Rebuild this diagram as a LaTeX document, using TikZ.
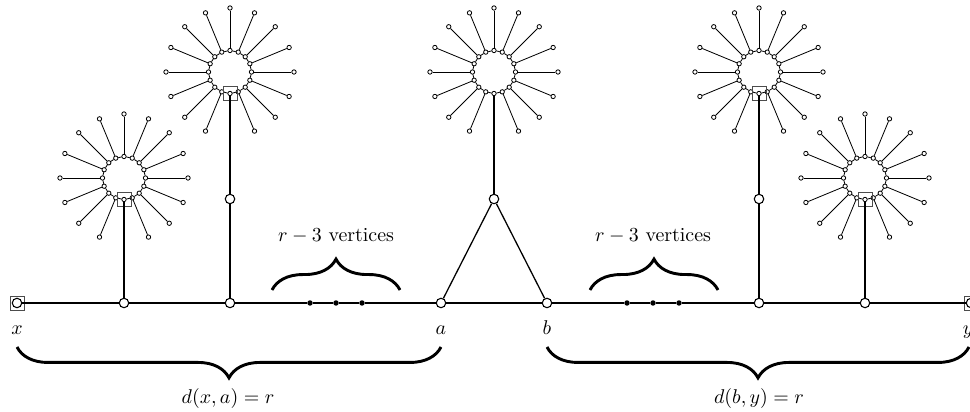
\documentclass[tikz,border=0pt,11pt]{standalone}
\usetikzlibrary{positioning,decorations.pathreplacing}

\begin{document}
\begin{tikzpicture}[
    x=0.55pt, y=0.55pt,
    vtx/.style={circle, draw, fill=white, inner sep=0pt, minimum size=5.2pt, line width=0.6pt},
    cv/.style={circle, draw, fill=white, inner sep=0pt, minimum size=2.4pt, line width=0.45pt},
    dotv/.style={circle, fill, inner sep=0pt, minimum size=3pt},
    sq/.style={rectangle, draw=black!70, inner sep=0pt, minimum size=7.7pt, line width=0.4pt},
    link/.style={line width=0.7pt},
    petal/.style={line width=0.45pt},
    brc/.style={decorate, decoration={brace, amplitude=17pt}, line width=1.6pt}
]
    \useasboundingbox (0,0) rectangle (970,412);
    \clip (0,0) rectangle (970,412);

    % main path
    \node[vtx] (x) at (17,109) {};
    \node[sq] (xsq) at (x) {};
    \node[vtx] (v1) at (124,109) {};
    \node[vtx] (v2) at (230,109) {};
    \node[dotv] (d1) at (310,109) {};
    \node[dotv] (d2) at (336,109) {};
    \node[dotv] (d3) at (362,109) {};
    \node[vtx] (a) at (441,109) {};
    \node[vtx] (b) at (547,109) {};
    \node[dotv] (e1) at (627,109) {};
    \node[dotv] (e2) at (653,109) {};
    \node[dotv] (e3) at (679,109) {};
    \node[vtx] (v4) at (759,109) {};
    \node[vtx] (v5) at (865,109) {};
    \node[vtx] (y) at (971,109) {};
    \node[sq] (ysq) at (y) {};

    \node[vtx] (s2) at (230,213) {};
    \node[vtx] (t) at (494,213) {};
    \node[vtx] (s4) at (759,213) {};

    % flowers
    \foreach \f/\cx/\cy in {1/124/234, 2/230/340, 3/494/340, 4/759/340, 5/865/234}{
        \begin{scope}[shift={(\cx,\cy)}]
            \foreach \k in {0,...,15}
                \node[cv] (f\f-\k) at (270+22.5*\k:21.5) {};
            \foreach \k [evaluate=\k as \n using {int(mod(\k+1,16))}] in {0,...,15}
                \draw[petal] (f\f-\k) -- (f\f-\n);
            \foreach \k in {1,...,15}{
                \node[cv] (f\f-l\k) at (270+22.5*\k:64) {};
                \draw[petal] (f\f-\k) -- (f\f-l\k);
            }
        \end{scope}
    }
    \foreach \f in {1,2,4,5}
        \node[sq] (f\f-sq) at (f\f-0) {};

    \draw[link] (x) -- (v1) -- (v2) -- (d1) -- (d2) -- (d3) -- (a) -- (b)
        -- (e1) -- (e2) -- (e3) -- (v4) -- (v5) -- (y);
    \draw[link] (v1) -- (f1-0);
    \draw[link] (v2) -- (s2) -- (f2-0);
    \draw[link] (a) -- (t) -- (b);
    \draw[link] (t) -- (f3-0);
    \draw[link] (v4) -- (s4) -- (f4-0);
    \draw[link] (v5) -- (f5-0);

    % labels
    \node[anchor=base] (lx) at (17,77) {$x$};
    \node[anchor=base] (la) at (441,77) {$a$};
    \node[anchor=base] (lb) at (547,77) {$b$};
    \node[anchor=base] (ly) at (968,77) {$y$};

    % braces
    \draw[brc] (272,122) -- (400,122);
    \draw[brc] (590,122) -- (718,122);
    \node[anchor=base] (n1) at (336,170) {$r-3$ vertices};
    \node[anchor=base] (n2) at (653,170) {$r-3$ vertices};
    \draw[brc] (441,65) -- (17,65);
    \draw[brc] (969,65) -- (547,65);
    \node[anchor=base] (dxa) at (228,8) {$d(x,a)=r$};
    \node[anchor=base] (dby) at (759,8) {$d(b,y)=r$};
\end{tikzpicture}
\end{document}
